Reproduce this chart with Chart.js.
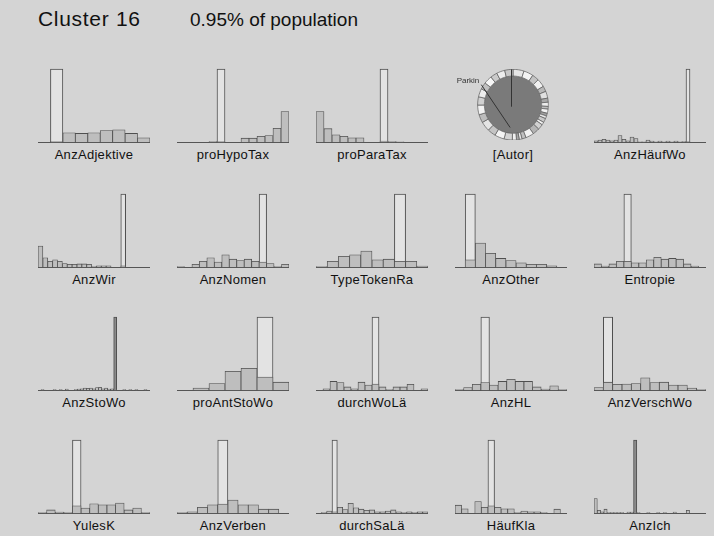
<!DOCTYPE html>
<html>
<head>
<meta charset="utf-8">
<script src="https://cdn.jsdelivr.net/npm/chart.js@4.4.0/dist/chart.umd.min.js"></script>
<style>
  html, body { margin: 0; padding: 0; background: #d4d4d4; }
  body { width: 714px; height: 536px; position: relative; overflow: hidden;
         font-family: "Liberation Sans", Arial, sans-serif; color: #111; }
  .title { position: absolute; font-size: 20px; line-height: 20px; white-space: nowrap; }
  .panel { position: absolute; }
  .lbl { position: absolute; width: 140px; font-size: 13px; line-height: 13px;
         letter-spacing: 0.3px; text-align: center; white-space: nowrap; }
</style>
</head>
<body>
<div class="title" style="left:38px;top:9px;font-size:21px;letter-spacing:0.7px">Cluster 16</div>
<div class="title" style="left:190px;top:10px;font-size:19px">0.95% of population</div>
<script>
// panel titles, row by row
const panelNames = ["AnzAdjektive", "proHypoTax", "proParaTax", "[Autor]", "AnzHäufWo",
  "AnzWir", "AnzNomen", "TypeTokenRa", "AnzOther", "Entropie",
  "AnzStoWo", "proAntStoWo", "durchWoLä", "AnzHL", "AnzVerschWo",
  "YulesK", "AnzVerben", "durchSaLä", "HäufKla", "AnzIch"];

// population histograms, in % of the cluster bar (which is 100)
const popAnzAdjektive = [0, 1, 13, 12, 13, 16, 17, 12, 6];
const popProHypoTax = [0, 0, 0, 0, 1, 1, 0, 0, 5.5, 5.5, 8, 9, 19, 42];
const popProParaTax = [42, 18.5, 10, 8, 6, 6, 0, 0, 1.5, 1, 0.5, 0, 0, 0];
const popAnzHaeufWo = [2, 3, 4, 3, 2, 3, 9, 4, 2, 7, 5, 0.5, 0.5, 3, 1.5, 0.5, 1.5, 0.5, 1.5, 0.5, 1.5, 0.5, 1, 1, 0, 0, 0, 0];
const popAnzWir = [29, 13, 8, 10, 8, 5, 4, 4, 4.5, 4.5, 4, 1, 2, 2, 2, 0, 0, 2, 0, 0, 0, 0, 0];
const popAnzNomen = [1, 0, 4, 8, 13, 7, 17, 11, 9, 11, 8, 7, 5, 1, 4];
const popTypeTokenRa = [1, 8, 15, 17, 22, 10, 11, 8, 8, 1.5];
const popAnzOther = [0, 10, 33, 19, 12, 9, 6, 4, 4, 2, 0];
const popEntropie = [4.5, 1.5, 4.5, 8, 8, 6, 6, 10, 13.5, 11, 12, 11, 4.5, 1.5, 0];
const popAnzStoWo = [0, 1, 0, 0, 0, 1, 0, 1, 0, 1.5, 0, 0, 1, 1.5, 2, 3, 2.5, 3, 2, 3.5, 4, 2, 3, 1.5, 2, 1, 0, 0, 1, 0, 1, 0, 1, 0, 0, 1, 0];
const popProAntStoWo = [0, 3, 9, 26, 30, 18, 11];
const popDurchWoLae = [0, 2, 12, 10.5, 4.5, 2, 11, 7, 8.5, 4.5, 1, 4.5, 4.5, 8, 0, 2];
const popAnzHL = [1, 3.5, 8, 10.5, 7, 12, 15, 12, 12, 4.5, 1.5, 6, 1];
const popAnzVerschWo = [3.5, 11, 8, 8.5, 9, 17, 10.5, 11, 7, 7, 3, 1];
const popYulesK = [1, 4.5, 1.5, 1, 10, 7, 13, 11.5, 11.5, 14, 4.5, 7, 1];
const popAnzVerben = [1, 2, 8, 11.5, 12.5, 18, 11.5, 11.5, 5.5, 5.5, 0];
const popDurchSaLae = [0, 1, 3, 2, 8, 5, 13.5, 7.5, 5.5, 4, 4.5, 2, 2, 3, 4.5, 2, 1, 2, 1, 2, 2];
const popHaeufKla = [11, 6, 0, 16, 8, 10, 8, 6, 6, 1, 3, 2, 2, 1, 0, 5.5, 0];
const popAnzIch = [20, 4, 2, 5.5, 1, 1, 1, 1, 1, 0, 1.5, 1.5, 1, 1, 0, 0, 1, 0, 0, 1, 0, 1, 0, 0, 1.5, 0, 0, 0, 4, 0, 0, 0, 0, 0];

const popHists = [popAnzAdjektive, popProHypoTax, popProParaTax, null, popAnzHaeufWo,
  popAnzWir, popAnzNomen, popTypeTokenRa, popAnzOther, popEntropie,
  popAnzStoWo, popProAntStoWo, popDurchWoLae, popAnzHL, popAnzVerschWo,
  popYulesK, popAnzVerben, popDurchSaLae, popHaeufKla, popAnzIch];

// the bin that holds the whole cluster
const clusterBin = [1, 5, 8, null, 23, 17, 11, 7, 1, 4, 25, 5, 8, 3, 1, 4, 4, 3, 5, 12];

// [Autor] ring: author shares clockwise from the top
const autorShares = [4, 3.5, 2.5, 3, 2, 2.5, 1.5, 1.5, 1, 1.5, 1, 1, 1.5, 1, 2, 2.5, 3,
  1.5, 1, 1, 1.5, 3, 3.5, 3, 3.5, 3, 3.5, 3, 3, 2.5, 3, 2.5, 3, 3];
const autorLabel = "Parkin";
const autorLabelIdx = 29;
const autorNeedle = [0.52, 0.65]; // turn fraction, radius fraction

const autorShades = ["#e6e6e6", "#f4f4f4", "#c4c4c4", "#f0f0f0", "#b8b8b8", "#e0e0e0", "#a8a8a8",
  "#ececec", "#bdbdbd", "#f2f2f2", "#a0a0a0", "#e8e8e8", "#c8c8c8", "#f2f2f2", "#d0d0d0", "#b4b4b4",
  "#f2f2f2", "#c0c0c0", "#e8e8e8", "#a8a8a8", "#f0f0f0", "#d4d4d4", "#f4f4f4", "#c4c4c4", "#e4e4e4",
  "#bcbcbc", "#f2f2f2", "#d0d0d0", "#ececec", "#c0c0c0", "#f6f6f6", "#cacaca", "#ededed", "#c8c8c8"];

Chart.defaults.font.family = '"Liberation Sans", Arial, sans-serif';
Chart.defaults.animation = false;
Chart.defaults.events = [];
Chart.defaults.plugins.legend.display = false;
Chart.defaults.plugins.tooltip.enabled = false;

const colLeft = [38, 177, 316, 455, 594];
const rowBase = [142, 267, 390, 513];
const panelW = 112, barH = 73, yTop = 103;
const edge = "#4f4f4f";

function addLabel(text, cx, base) {
  const l = document.createElement("div");
  l.className = "lbl";
  l.textContent = text;
  l.style.left = (cx - 70) + "px";
  l.style.top = (base + 6) + "px";
  document.body.appendChild(l);
}

function makeCanvas(left, top, w, h) {
  const div = document.createElement("div");
  div.className = "panel";
  div.style.left = left + "px";
  div.style.top = top + "px";
  div.style.width = w + "px";
  div.style.height = h + "px";
  const cv = document.createElement("canvas");
  div.appendChild(cv);
  document.body.appendChild(div);
  return cv;
}

function histPanel(i) {
  const col = i % 5, row = Math.floor(i / 5);
  const pop = popHists[i];
  const cluster = pop.map((_, k) => (k === clusterBin[i] ? 100 : null));
  const plotH = barH * yTop / 100;
  // very narrow cluster bars look solid in the original
  const clusterFill = panelW / pop.length < 3.6 ? "#8a8a8a" : "#e3e3e3";
  const cv = makeCanvas(colLeft[col], rowBase[row] - plotH, panelW, plotH + 2);
  new Chart(cv, {
    type: "bar",
    data: {
      labels: pop.map((_, k) => k),
      datasets: [
        { data: pop, backgroundColor: "#bebebe", borderColor: edge, borderWidth: 0.8, order: 0 },
        { data: cluster, backgroundColor: clusterFill, borderColor: edge, borderWidth: 1, order: 1 }
      ]
    },
    options: {
      responsive: true,
      maintainAspectRatio: false,
      layout: { padding: { top: 0, bottom: 2, left: 0, right: 0 } },
      datasets: { bar: { grouped: false, barPercentage: 1, categoryPercentage: 1, borderSkipped: "bottom" } },
      scales: {
        x: { display: true, ticks: { display: false }, grid: { display: false, drawTicks: false },
             border: { display: true, color: "#555", width: 1 } },
        y: { display: false, min: 0, max: yTop }
      }
    }
  });
  addLabel(panelNames[i], colLeft[col] + panelW / 2, rowBase[row]);
}

const autorMarks = {
  id: "autorMarks",
  afterDatasetsDraw(chart) {
    const arcs = chart.getDatasetMeta(0).data;
    const a0 = arcs[0];
    const x = a0.x, y = a0.y, R = a0.outerRadius;
    const ctx = chart.ctx;
    ctx.save();
    ctx.strokeStyle = "#333";
    ctx.lineWidth = 1;
    ctx.beginPath();
    ctx.moveTo(x - 1.5, y + 2);
    ctx.lineTo(x - 1.5 + R * Math.cos(a0.startAngle), y + R * Math.sin(a0.startAngle));
    ctx.stroke();
    const p = arcs[autorLabelIdx];
    const mid = (p.startAngle + p.endAngle) / 2;
    const sx = x + R * 1.06 * Math.cos(mid), sy = y + R * 1.06 * Math.sin(mid);
    const na = a0.startAngle + autorNeedle[0] * Math.PI * 2;
    ctx.beginPath();
    ctx.moveTo(sx, sy);
    ctx.lineTo(x + R * autorNeedle[1] * Math.cos(na), y + R * autorNeedle[1] * Math.sin(na));
    ctx.stroke();
    ctx.fillStyle = "#333";
    ctx.font = '8px "Liberation Sans", Arial, sans-serif';
    ctx.textAlign = "right";
    ctx.textBaseline = "bottom";
    ctx.fillText(autorLabel, sx - 2, sy);
    ctx.restore();
  }
};

function autorPanel(i) {
  const col = i % 5, row = Math.floor(i / 5);
  const R = 35.7;
  const cx = colLeft[col] + panelW / 2 + 2;
  const cy = rowBase[row] - 37.7;
  const cv = makeCanvas(cx - 78, cy - R, 156, 2 * R);
  new Chart(cv, {
    type: "doughnut",
    data: {
      labels: autorShares.map((_, k) => k),
      datasets: [
        { data: autorShares, backgroundColor: autorShades, borderColor: "#5a5a5a", borderWidth: 0.7, weight: 0.19 },
        { data: [1], backgroundColor: "#7a7a7a", borderWidth: 0, weight: 0.81 }
      ]
    },
    options: {
      responsive: true,
      maintainAspectRatio: false,
      cutout: 0,
      layout: { padding: 0 }
    },
    plugins: [autorMarks]
  });
  addLabel(panelNames[i], cx, rowBase[row]);
}

panelNames.forEach((name, i) => {
  if (popHists[i]) histPanel(i);
  else autorPanel(i);
});
</script>
</body>
</html>
